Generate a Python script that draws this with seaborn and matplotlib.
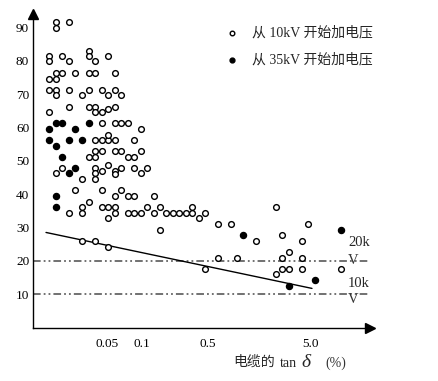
import numpy as np
import pandas as pd
import matplotlib
matplotlib.use("Agg")
import matplotlib.pyplot as plt
import seaborn as sns
from matplotlib.transforms import ScaledTranslation

# ---------------- data ----------------
open_x = [0.0177, 0.0177, 0.0244, 0.0150, 0.0150, 0.0207, 0.0244, 0.0397, 0.0397, 0.0464,
          0.0597, 0.0177, 0.0207, 0.0285, 0.0397, 0.0464, 0.0673, 0.0150, 0.0177, 0.0150,
          0.0177, 0.0177, 0.0244, 0.0336, 0.0397, 0.0534, 0.0597, 0.0673, 0.0752, 0.0244,
          0.0397, 0.0464, 0.0464, 0.0534, 0.0597, 0.0673, 0.0150, 0.0534, 0.0673, 0.0752,
          0.0848, 0.1096, 0.0464, 0.0534, 0.0597, 0.0597, 0.0673, 0.0949, 0.0397, 0.0464,
          0.0464, 0.0534, 0.0673, 0.0752, 0.0848, 0.0949, 0.1096, 0.0207, 0.0177, 0.0336,
          0.0464, 0.0464, 0.0464, 0.0534, 0.0597, 0.0673, 0.0673, 0.0752, 0.0949, 0.1096,
          0.1281, 0.0285, 0.0244, 0.0336, 0.0336, 0.0397, 0.0534, 0.0534, 0.0597, 0.0597,
          0.0673, 0.0673, 0.0673, 0.0752, 0.0848, 0.0848, 0.0949, 0.0949, 0.1096, 0.1281,
          0.1512, 0.1512, 0.1768, 0.1768, 0.2066, 0.2438, 0.2850, 0.3340, 0.3933, 0.3933,
          0.4643, 0.5300, 0.6679, 0.8325, 0.0336, 0.0464, 0.0597, 0.5300, 0.6679, 0.9364,
          2.393, 5.302, 1.458, 2.825, 4.637, 3.344, 2.825, 4.637, 2.825, 3.344,
          4.637, 9.430, 2.393]
open_y = [91.6, 89.9, 91.6, 81.5, 80.0, 81.5, 80.0, 83.1, 81.5, 80.0,
          81.5, 76.4, 76.4, 76.4, 76.4, 76.4, 76.4, 74.7, 74.7, 71.4,
          71.4, 69.8, 71.4, 69.8, 71.4, 71.4, 69.8, 71.4, 69.8, 66.3,
          66.3, 66.3, 64.7, 64.7, 65.5, 66.3, 64.7, 61.3, 61.3, 61.3,
          61.3, 59.7, 56.3, 56.3, 56.3, 57.9, 56.3, 56.3, 51.2, 52.9,
          51.2, 52.9, 52.9, 52.9, 51.2, 51.2, 52.9, 47.8, 46.3, 44.5,
          47.8, 46.3, 44.5, 47.1, 48.8, 47.1, 46.1, 47.8, 47.8, 46.3,
          47.8, 41.1, 34.2, 36.0, 34.2, 37.6, 41.1, 36.0, 36.0, 32.7,
          39.4, 36.0, 34.2, 41.1, 39.4, 34.2, 39.4, 34.2, 34.2, 36.0,
          39.4, 34.2, 36.0, 29.2, 34.2, 34.2, 34.2, 34.2, 36.0, 34.2,
          32.7, 34.2, 31.0, 31.0, 25.9, 25.9, 24.2, 17.5, 20.9, 20.9,
          36.0, 31.0, 25.9, 27.7, 25.9, 22.6, 20.9, 20.9, 17.5, 17.5,
          17.5, 17.5, 15.9]

filled_x = [0.0150, 0.0177, 0.0207, 0.0285, 0.0397, 0.0150, 0.0177, 0.0244, 0.0336,
            0.0207, 0.0285, 0.0244, 0.0177, 0.0177, 1.06, 9.43, 5.97, 3.34]
filled_y = [59.7, 61.3, 61.3, 59.7, 61.3, 56.3, 54.5, 56.3, 56.3,
            51.2, 47.8, 46.3, 39.4, 36.0, 27.7, 29.3, 14.2, 12.5]

line_x = [0.0138, 5.66]
line_y = [28.5, 11.7]

hlines = [20, 10]
hline_labels = [("20k", "V"), ("10k", "V")]

y_ticks = [10, 20, 30, 40, 50, 60, 70, 80, 90]
x_ticks = [0.05, 0.1, 0.5, 1, 5, 10]
x_tick_labels = ["0.05", "0.1", "0.5", "", "5.0", ""]

series_labels = ["从 10kV 开始加电压", "从 35kV 开始加电压"]

# ---------------- style ----------------
sns.set_style("white")
plt.rcParams["font.family"] = ["Liberation Serif", "Noto Sans CJK SC"]
plt.rcParams["lines.scale_dashes"] = False

fig = plt.figure(figsize=(4.39, 3.81), dpi=100)
ax = fig.add_axes([33 / 439, (381 - 327.7) / 381, 337 / 439, (327.7 - 14) / 381])

# axis scale roughly logarithmic as drawn in the original
_pos = np.array([0, 65, 104, 169, 208, 272, 311, 376.0])
_log = np.log10([0.01, 0.05, 0.1, 0.5, 1, 5, 10, 50])


def fwd(x):
    x = np.clip(np.asarray(x, dtype=float), 1e-9, None)
    return np.interp(np.log10(x), _log, _pos)


def inv(p):
    return 10 ** np.interp(np.asarray(p, dtype=float), _pos, _log)


ax.set_xscale("function", functions=(fwd, inv))

sns.scatterplot(x=open_x, y=open_y, ax=ax, s=17, color="white", edgecolor="black",
                linewidth=1.0, label=series_labels[0], zorder=3)
sns.scatterplot(x=filled_x, y=filled_y, ax=ax, s=19, color="black", edgecolor="black",
                linewidth=1.0, label=series_labels[1], zorder=3)
sns.lineplot(x=line_x, y=line_y, ax=ax, color="black", lw=1.0, legend=False)

for v in hlines:
    ax.axhline(v, color="#4a4a4a", lw=1.1, linestyle=(0, (5.5, 2.2, 1.3, 2.2, 1.3, 2.2)),
               zorder=1)

ax.set_xlim(0.01, inv(337))
ax.set_ylim(-0.1, 94.1)

ax.set_yticks(y_ticks)
ax.set_xticks(x_ticks)
ax.set_xticklabels(x_tick_labels)
ax.xaxis.set_minor_locator(matplotlib.ticker.NullLocator())
ax.tick_params(axis="y", direction="in", length=3, width=1, pad=2.7, labelsize=9.5,
               colors="black")
ax.tick_params(axis="x", direction="in", length=4.5, width=1, pad=7.5, labelsize=9.5,
               colors="black")
off = ScaledTranslation(-3 / 100, 0, fig.dpi_scale_trans)
for lbl in ax.get_xticklabels():
    lbl.set_horizontalalignment("left")
    lbl.set_transform(lbl.get_transform() + off)

for s in ["top", "right"]:
    ax.spines[s].set_visible(False)
for s in ["left", "bottom"]:
    ax.spines[s].set_color("black")
    ax.spines[s].set_linewidth(1.0)

ax.plot(1, 0, ">", color="black", ms=7, transform=ax.transAxes, clip_on=False)
ax.plot(0, 1, "^", color="black", ms=7, transform=ax.transAxes, clip_on=False)

# voltage labels at right
ytr = ax.get_yaxis_transform()
lab_pos = [(25.4, 20.0), (13.2, 8.3)]
for (top, bot), (ty, by) in zip(hline_labels, lab_pos):
    ax.text(0.935, ty, top, transform=ytr, fontsize=10.5, va="center", ha="left")
    ax.text(0.935, by, bot, transform=ytr, fontsize=10.5, va="center", ha="left",
            color="#333333")

handles, labels = ax.get_legend_handles_labels()
ax.legend(handles, labels, loc="upper left",
          bbox_to_anchor=(226 / 439, 1 - 26 / 381), bbox_transform=fig.transFigure,
          frameon=False, borderpad=0, borderaxespad=0, handlelength=0.9,
          handletextpad=1.0, labelspacing=0.95, fontsize=10, markerscale=0.8)

# x axis title
fig.text(233 / 439, 1 - 361.7 / 381, "电缆的", family=["Noto Sans CJK SC"], fontsize=10,
         va="center", ha="left")
fig.text(280 / 439, 1 - 367 / 381, "tan", fontsize=10, va="baseline", ha="left")
fig.text(301 / 439, 1 - 367 / 381, "δ", fontsize=14, style="italic", va="baseline",
         ha="left")
fig.text(325 / 439, 1 - 367 / 381, "(%)", fontsize=10, va="baseline", ha="left",
         color="#333333")

fig.savefig("out.png", dpi=100)
